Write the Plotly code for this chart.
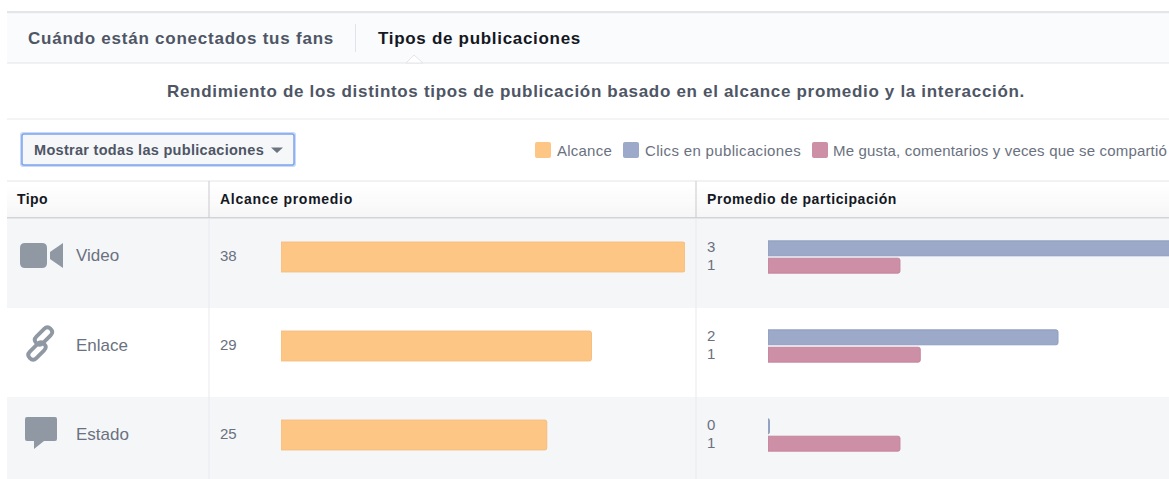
import json
import plotly.graph_objects as go

W, H = 1169, 479
FONT = "Liberation Sans"

categories = ["Video", "Enlace", "Estado"]
alcance = [38.0, 29.2, 25.0]
alcance_labels = ["38", "29", "25"]
clics = [3.0, 2.0, 0.01]
clics_labels = ["3", "2", "0"]
interacciones = [0.91, 1.05, 0.91]
interacciones_labels = ["1", "1", "1"]

ORANGE, BLUE, PINK = "#fec685", "#9ca9c8", "#cd8fa6"
ORANGE_L, BLUE_L, PINK_L = "#f4bd80", "#8f9dbf", "#c4859d"
ICON = "#8f98a3"


def X(p):
    return p / W


def Y(p):
    return 1 - p / H


fig = go.Figure()

fig.add_trace(go.Bar(y=categories, x=alcance, orientation="h", name="Alcance",
                     marker=dict(color=ORANGE, line=dict(color=ORANGE_L, width=1), cornerradius=2),
                     xaxis="x", yaxis="y", hoverinfo="x+y"))
fig.add_trace(go.Bar(y=categories, x=clics, orientation="h", name="Clics en publicaciones",
                     marker=dict(color=BLUE, line=dict(color=BLUE_L, width=1), cornerradius=2),
                     xaxis="x2", yaxis="y2", hoverinfo="x+y"))
fig.add_trace(go.Bar(y=categories, x=interacciones, orientation="h",
                     name="Me gusta, comentarios y veces que se compartió",
                     marker=dict(color=PINK, line=dict(color=PINK_L, width=1), cornerradius=2),
                     xaxis="x2", yaxis="y2", hoverinfo="x+y"))

shapes = []


def rect(x0, y0, x1, y1, fill, line=None, lw=1):
    shapes.append(dict(type="rect", xref="paper", yref="paper", x0=X(x0), x1=X(x1), y0=Y(y0), y1=Y(y1),
                       fillcolor=fill, line=dict(color=line or fill, width=lw if line else 0), layer="below"))


def path(d, fill, line=None, lw=0):
    out = []
    for c in d:
        if isinstance(c, str):
            out.append(c)
        else:
            out.append(f"{X(c[0]):.5f},{Y(c[1]):.5f}")
    shapes.append(dict(type="path", xref="paper", yref="paper", path=" ".join(out),
                       fillcolor=fill, line=dict(color=line or fill, width=lw), layer="above"))


def rrect(x0, y0, x1, y1, r):
    return ["M", (x0 + r, y0), "L", (x1 - r, y0), "Q", (x1, y0), (x1, y0 + r), "L", (x1, y1 - r),
            "Q", (x1, y1), (x1 - r, y1), "L", (x0 + r, y1), "Q", (x0, y1), (x0, y1 - r),
            "L", (x0, y0 + r), "Q", (x0, y0), (x0 + r, y0), "Z"]


# page chrome
rect(7, 11, W, 13.5, "#e4e5e9")
rect(7, 13.5, W, 63, "#fafbfc")
rect(7, 62.5, W, 63.5, "#e4e5e9")
path(["M", (406, 63), "L", (414, 55), "L", (423, 63), "Z"], "#ffffff", "#e4e5e9", 1)
path(["M", (407, 64), "L", (422, 64), "L", (422, 66), "L", (407, 66), "Z"], "#ffffff")
rect(355, 24, 356, 52, "#e2e3e6")
rect(7, 118.5, W, 119.5, "#e9eaed")

# button
path(rrect(20, 132, 296, 167, 3), "#c9daf8")
path(rrect(22, 134, 294, 165, 2), "#f6f7f9", "#7ea4ec", 1.5)
path(["M", (271, 147.5), "L", (283, 147.5), "L", (277, 153), "Z"], "#6c7480")

# legend swatches
for x0, c in [(535, ORANGE), (623, BLUE), (812, PINK)]:
    path(rrect(x0, 142, x0 + 16, 158, 2), c)

# rows
rect(7, 218, W, 308, "#f5f6f8")
rect(7, 397, W, H, "#f5f6f8")

# table header gradient
steps = 12
for i in range(steps):
    g = 255 - int(9 * i / (steps - 1))
    y0 = 181 + i * 37 / steps
    rect(7, y0, W, y0 + 37 / steps + .3, f"rgb({g},{g},{g + 1})")
rect(7, 180.5, W, 181.5, "#e4e5e9")
rect(7, 217, W, 218.5, "#d3d4d8")

for x in (209, 696):
    rect(x - .5, 218, x + .5, H, "#e9eaed")
    rect(x - .5, 181, x + .5, 218, "#c9cacd")

# icons
path(rrect(20, 243, 47, 268, 5), ICON)
path(["M", (50, 252), "L", (63, 243), "L", (63, 268), "L", (50, 259), "Z"], ICON)


def link(cx, cy, L, R):
    ux, uy = 0.7071, -0.7071
    vx, vy = 0.7071, 0.7071

    def pt(a, b):
        return (cx + a * ux + b * vx, cy + a * uy + b * vy)
    return ["M", pt(-L, -R), "L", pt(L, -R), "Q", pt(L + R, -R), pt(L + R, 0), "Q", pt(L + R, R), pt(L, R),
            "L", pt(-L, R), "Q", pt(-L - R, R), pt(-L - R, 0), "Q", pt(-L - R, -R), pt(-L, -R), "Z"]


path(link(43.5, 336, 5.5, 4.6), "rgba(0,0,0,0)", ICON, 3.8)
path(link(37, 351, 5.5, 4.6), "rgba(0,0,0,0)", ICON, 3.8)

path(["M", (27, 417), "L", (55, 417), "Q", (57, 417), (57, 419), "L", (57, 439), "Q", (57, 441), (55, 441),
      "L", (44, 441), "L", (34, 449), "L", (34, 441), "L", (27, 441), "Q", (25, 441), (25, 439),
      "L", (25, 419), "Q", (25, 417), (27, 417), "Z"], ICON)

annotations = []
target_widths = {}


def text(x, y, s, size=14, color="#6a7180", bold=False, width=None):
    annotations.append(dict(xref="paper", yref="paper", x=X(x), y=Y(y), xanchor="left", yanchor="middle",
                            text=f"<b>{s}</b>" if bold else s, showarrow=False, align="left",
                            borderpad=0, borderwidth=0,
                            font=dict(family=FONT, size=size, color=color)))
    if width:
        target_widths[s] = width


text(28, 38, "Cuándo están conectados tus fans", 17, "#4e5665", True, 306)
text(378, 38, "Tipos de publicaciones", 17, "#141823", True, 203)
text(167, 91, "Rendimiento de los distintos tipos de publicación basado en el alcance promedio y la interacción.",
     17, "#4e5665", True, 858)
text(34, 150, "Mostrar todas las publicaciones", 14.5, "#4e5665", True, 230)
text(557, 151, "Alcance", 15, width=55)
text(645, 151, "Clics en publicaciones", 15, width=156)
text(833, 151, "Me gusta, comentarios y veces que se compartió", 15, width=334)
text(17, 199, "Tipo", 14, "#141823", True, 31)
text(220, 199, "Alcance promedio", 14, "#141823", True, 133)
text(707, 199, "Promedio de participación", 14, "#141823", True, 190)

row_y = [257, 346, 435]
for i, c in enumerate(categories):
    text(76, row_y[i] - 1, c, 17, "#6a7180")
    text(220, row_y[i] - 1.5, alcance_labels[i], 15)
    text(707, row_y[i] - 10.5, clics_labels[i], 15)
    text(707, row_y[i] + 7.5, interacciones_labels[i], 15)

y_top, y_bot = 218, H
y_axis = dict(type="category", categoryorder="array", categoryarray=categories,
              range=[(y_bot - 257) / 89, (y_top - 257) / 89], domain=[0, 1 - y_top / H],
              showticklabels=False, showgrid=False, zeroline=False, showline=False, ticks="", fixedrange=True)

fig.update_layout(
    width=W, height=H, margin=dict(l=0, r=0, t=0, b=0), autosize=False,
    paper_bgcolor="#ffffff", plot_bgcolor="rgba(0,0,0,0)", showlegend=False,
    barmode="group", bargap=0.61, bargroupgap=0.14,
    font=dict(family=FONT),
    xaxis=dict(domain=[X(281), X(685)], range=[0, 38], visible=False, fixedrange=True),
    yaxis=dict(**y_axis, anchor="x"),
    xaxis2=dict(domain=[X(768), 1], range=[0, 401 / 145], visible=False, fixedrange=True),
    yaxis2=dict(**y_axis, anchor="x2"),
    shapes=shapes, annotations=annotations,
)

post = """
document.body.style.margin='0';document.body.style.overflow='hidden';
var targets = %s;
document.querySelectorAll('.annotation-text').forEach(function(t){
  var w = targets[t.textContent];
  if(!w) return;
  var n = t.textContent.length;
  t.style.letterSpacing = ((w - t.getComputedTextLength()) / n) + 'px';
});
""" % json.dumps(target_widths, ensure_ascii=False)

fig.write_html("out.html", config=dict(displayModeBar=False), post_script=post)
